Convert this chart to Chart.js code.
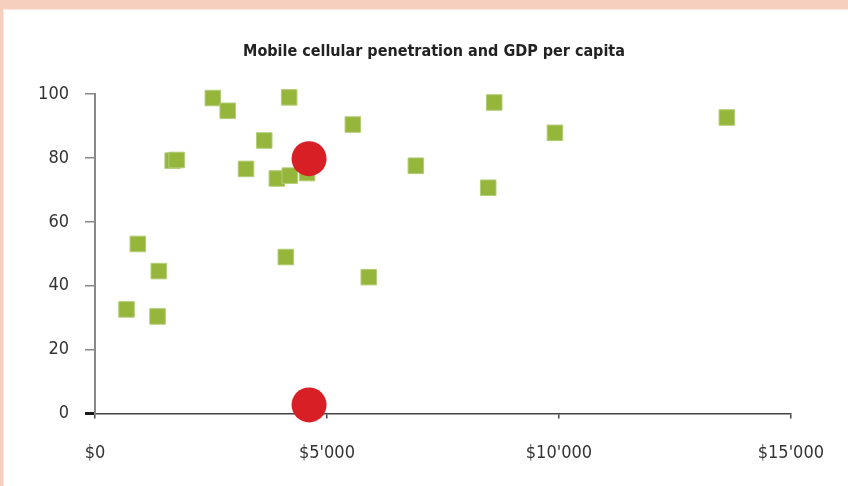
<!DOCTYPE html>
<html>
<head>
<meta charset="utf-8">
<script src="https://cdn.jsdelivr.net/npm/chart.js@4.4.0/dist/chart.umd.min.js"></script>
<style>
  html, body { margin: 0; padding: 0; background: #fff; }
  #wrap { width: 848px; height: 486px; }
</style>
</head>
<body>
<div id="wrap"><canvas id="grafico" width="848" height="486"></canvas></div>
<script>
// Dados (PIB per capita em US$, penetração móvel em %)
const gdpPerCapita = [680, 923, 1375, 1348, 1674, 1760, 2540, 2861, 3255, 3648, 3920, 4199, 4185, 4113, 4571, 5558, 5901, 6916, 8476, 8605, 9914, 13620];
const mobilePenetration = [32.6, 53.1, 44.6, 30.4, 79.2, 79.4, 98.8, 94.8, 76.6, 85.5, 73.6, 74.5, 99.0, 49.0, 75.3, 90.5, 42.7, 77.6, 70.7, 97.4, 87.9, 92.7];

// Pontos em destaque (vermelho)
const highlightGdp = [4614, 4614];
const highlightPenetration = [79.8, 2.7];

const xTicks = [0, 5000, 10000, 15000];
const yTicks = [0, 20, 40, 60, 80, 100];

const fonte = "'Liberation Sans Narrow', 'DejaVu Sans Condensed', 'Liberation Sans', sans-serif";

// Moldura salmão no topo e à esquerda
const molduraPlugin = {
    id: 'moldura',
    beforeDraw(chart) {
        const ctx = chart.ctx;
        ctx.save();
        ctx.fillStyle = '#ffffff';
        ctx.fillRect(0, 0, chart.width, chart.height);
        ctx.fillStyle = '#f7cfbf';
        ctx.fillRect(0, 0, chart.width, 9);
        ctx.fillRect(0, 0, 3, chart.height);
        ctx.fillStyle = '#fbe6dc';
        ctx.fillRect(3, 9, chart.width - 3, 1);
        ctx.fillRect(3, 9, 1, chart.height - 9);
        ctx.restore();
    }
};

function paraPontos(xs, ys) {
    return xs.map((x, i) => ({ x: x, y: ys[i] }));
}

function formatarDolar(v) {
    return '$' + String(v).replace(/\B(?=(\d{3})+(?!\d))/g, "'");
}

const ctx = document.getElementById('grafico').getContext('2d');
new Chart(ctx, {
    type: 'scatter',
    data: {
        datasets: [
            {
                label: 'Destaque',
                data: paraPontos(highlightGdp, highlightPenetration),
                backgroundColor: '#d91f26',
                borderWidth: 0,
                pointRadius: 17.5,
                pointHoverRadius: 17.5,
                clip: false,
                order: 0
            },
            {
                label: 'Países',
                data: paraPontos(gdpPerCapita, mobilePenetration),
                pointStyle: 'rect',
                backgroundColor: '#95b63b',
                borderColor: '#b3cd78',
                borderWidth: 1,
                pointRadius: 11,
                pointHoverRadius: 11,
                clip: false,
                order: 1
            }
        ]
    },
    options: {
        responsive: false,
        animation: false,
        layout: { padding: { left: 20, right: 0, top: 0, bottom: 0 } },
        plugins: {
            legend: { display: false },
            tooltip: { enabled: false },
            title: {
                display: true,
                text: 'Mobile cellular penetration and GDP per capita',
                color: '#222',
                font: { family: fonte, size: 16, weight: 'bold' },
                padding: { top: 42, bottom: 33 }
            }
        },
        scales: {
            x: {
                type: 'linear',
                min: 0,
                max: 15000,
                afterFit(scale) { scale.height = 72.5; },
                afterBuildTicks(scale) { scale.ticks = xTicks.map(v => ({ value: v })); },
                border: { display: true, color: '#444', width: 1.5 },
                grid: {
                    display: true,
                    drawOnChartArea: false,
                    drawTicks: true,
                    tickLength: 5,
                    color: '#444',
                    lineWidth: 1.5
                },
                ticks: {
                    padding: 24,
                    color: '#333',
                    font: { family: fonte, size: 18 },
                    maxRotation: 0,
                    callback: v => formatarDolar(v)
                }
            },
            y: {
                type: 'linear',
                min: 0,
                max: 100,
                afterFit(scale) { scale.width = 75; },
                afterBuildTicks(scale) { scale.ticks = yTicks.map(v => ({ value: v })); },
                border: { display: true, color: '#888', width: 2 },
                grid: {
                    display: true,
                    drawOnChartArea: false,
                    drawTicks: true,
                    tickLength: 10,
                    color: c => (c.tick && c.tick.value === 0) ? '#1a1a1a' : '#888',
                    lineWidth: c => (c.tick && c.tick.value === 0) ? 3 : 1.5
                },
                ticks: {
                    padding: 16,
                    color: '#333',
                    font: { family: fonte, size: 18 }
                }
            },
            // eixo vazio à direita, só reserva espaço
            yDireita: {
                type: 'linear',
                position: 'right',
                min: 0,
                max: 100,
                afterFit(scale) { scale.width = 54; },
                border: { display: false },
                grid: { display: false },
                ticks: { display: false }
            }
        }
    },
    plugins: [molduraPlugin]
});
</script>
</body>
</html>
